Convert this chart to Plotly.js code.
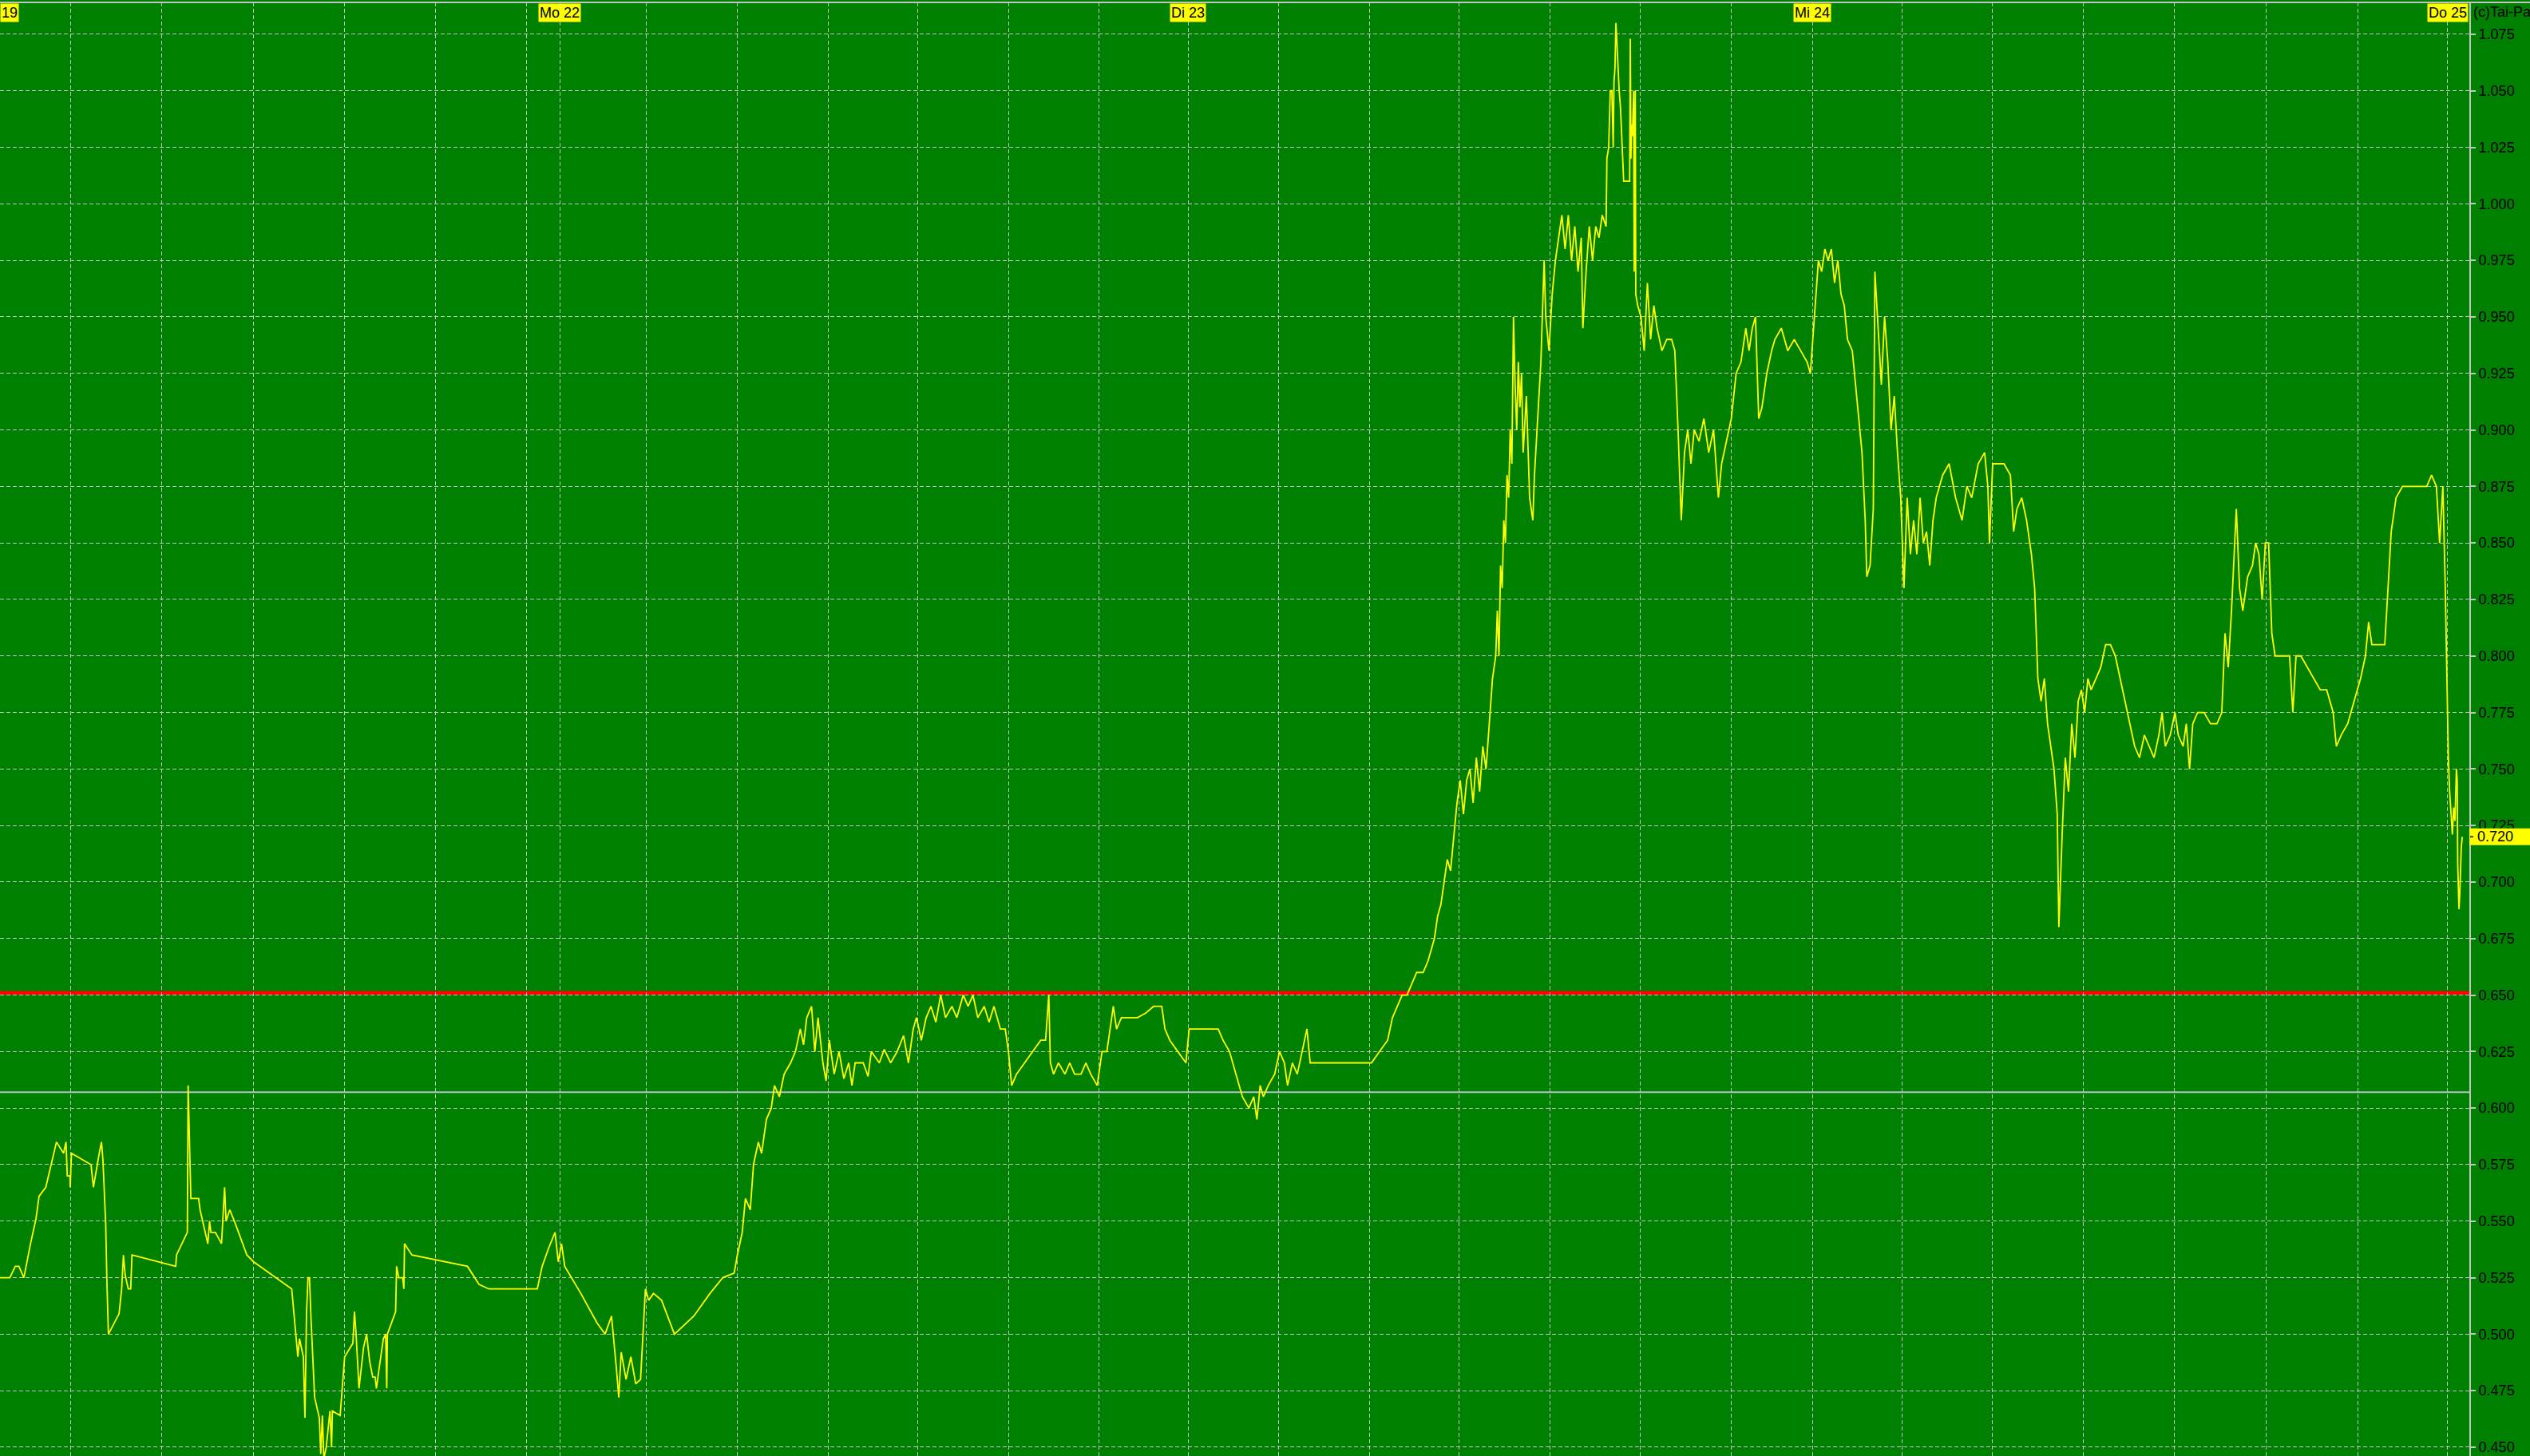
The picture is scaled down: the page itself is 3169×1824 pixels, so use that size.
<!DOCTYPE html>
<html><head><meta charset="utf-8">
<script src="https://cdn.plot.ly/plotly-3.0.1.min.js"></script>
<style>html,body{margin:0;padding:0;background:#008000;overflow:hidden}</style>
</head><body><div id="chart" style="width:3169px;height:1824px"></div>
<script>
// time axis: trading-time index (sessions concatenated)
const dayLabels = ['19', 'Mo 22', 'Di 23', 'Mi 24', 'Do 25'];
const dayStartT = [0, 346.9, 736.3, 1123.2, 1517.0];
const gridT = [44.0, 100.4, 156.9, 213.3, 269.7, 326.1,
  400.3, 456.7, 513.1, 569.0, 625.4, 681.3,
  792.2, 848.6, 904.0, 960.4, 1016.8, 1073.2,
  1178.6, 1235.0, 1291.4, 1347.8, 1404.7, 1461.2];
const timeRange = [0, 1530.4];
const priceRange = [0.4461, 1.0891];
const priceTick0 = 0.45, priceTickStep = 0.025;
const markLevel = 0.651;   // red line
const prevClose = 0.607;   // grey line
const copyrightText = '(c)Tai-Pan';

// price series [time index, price]
const fr19 = [[0,0.525],[6.1,0.525],[9.5,0.530],[11.7,0.530],[14.8,0.525],[18.9,0.540],[22.3,0.551],[24.2,0.561],[28.4,0.565],[30.3,0.571],[33.1,0.580],[35.0,0.585],[39.4,0.580],[40.9,0.585],[41.7,0.570],[43.4,0.570],[43.5,0.565],[44.3,0.580],[56.4,0.575],[57.9,0.565],[61.5,0.580],[62.9,0.585],[63.8,0.577],[64.8,0.562],[65.5,0.549],[66.3,0.522],[67.2,0.500],[73.8,0.509],[75.4,0.520],[76.5,0.535],[77.6,0.526],[79.5,0.520],[81.0,0.520],[81.8,0.535],[108.9,0.530],[109.4,0.535],[116.1,0.545],[116.6,0.610],[117.2,0.595],[118.0,0.570],[118.3,0.560],[123.1,0.560],[124.0,0.555],[128.8,0.540],[129.9,0.550],[130.7,0.545],[133.5,0.545],[137.3,0.540],[138.2,0.550],[139.2,0.565],[140.1,0.550],[142.4,0.555],[145.8,0.549],[153.0,0.535],[157.2,0.532],[180.8,0.520],[182.7,0.505],[184.6,0.490],[185.6,0.498],[188.0,0.490],[189.0,0.463],[190.0,0.510],[190.9,0.525],[191.8,0.525],[192.8,0.506],[194.1,0.482],[195.0,0.472],[197.9,0.463],[198.8,0.447],[199.8,0.464],[200.7,0.445],[202.2,0.450],[203.6,0.459],[204.5,0.466],[205.5,0.450],[206.0,0.466],[210.8,0.464],[212.1,0.477],[213.6,0.490],[218.7,0.496],[219.7,0.510],[220.6,0.501],[221.6,0.490],[222.5,0.476],[225.3,0.494],[227.2,0.500],[229.1,0.488],[231.0,0.481],[232.5,0.481],[233.3,0.476],[234.8,0.484],[237.6,0.498],[239.0,0.500],[239.7,0.476],[240.1,0.500],[245.2,0.510],[245.8,0.530],[247.1,0.525],[249.6,0.525],[250.3,0.520],[250.7,0.540],[255.3,0.535],[289.7,0.530],[296.9,0.522],[303,0.520],[333,0.520],[336,0.530],[340,0.538],[344,0.545],[346,0.532]];
const mo22 = [[348,0.540],[350,0.530],[360,0.518],[370,0.505],[375,0.500],[379,0.508],[382,0.485],[383.5,0.472],[385,0.492],[388,0.480],[391,0.490],[394,0.478],[397,0.480],[400,0.520],[402,0.515],[405,0.518],[410,0.515],[418,0.500],[430,0.508],[440,0.518],[448,0.525],[455,0.527],[457,0.535],[460,0.545],[462,0.560],[465,0.555],[467,0.575],[470,0.585],[472,0.580],[475,0.595],[478,0.600],[480,0.610],[483,0.605],[486,0.615],[490,0.620],[493,0.625],[496,0.635],[498,0.628],[500,0.640],[503,0.645],[505,0.625],[507,0.640],[510,0.620],[512,0.612],[514,0.630],[517,0.615],[520,0.625],[523,0.613],[526,0.620],[528,0.610],[530,0.620],[535,0.620],[538,0.614],[540,0.625],[545,0.620],[548,0.626],[552,0.620],[556,0.625],[560,0.632],[563,0.620],[566,0.635],[568,0.640],[571,0.630],[574,0.640],[577,0.645],[580,0.638],[583,0.650],[586,0.640],[590,0.645],[593,0.640],[597,0.650],[600,0.645],[603,0.650],[606,0.640],[610,0.645],[613,0.638],[616,0.645],[620,0.635],[623,0.635],[625,0.625],[627,0.610],[630,0.615],[635,0.620],[640,0.625],[645,0.630],[648,0.630],[650,0.650],[651,0.620],[653,0.615],[656,0.620],[660,0.615],[663,0.620],[666,0.615],[670,0.615],[673,0.620],[676,0.615],[680,0.610],[683,0.625],[686,0.625],[690,0.645],[692,0.635],[695,0.640],[700,0.640],[705,0.640],[710,0.642],[715,0.645],[720,0.645],[722,0.635],[725,0.630],[730,0.625],[735,0.620]];
const di23 = [[737,0.635],[745,0.635],[750,0.635],[755,0.635],[758,0.630],[762,0.625],[766,0.615],[770,0.605],[774,0.600],[777,0.605],[779,0.595],[781,0.610],[783,0.605],[786,0.610],[790,0.615],[793,0.625],[796,0.620],[798,0.610],[801,0.620],[804,0.615],[807,0.625],[810,0.635],[812,0.620],[815,0.620],[820,0.620],[830,0.620],[840,0.620],[850,0.620],[855,0.625],[860,0.630],[863,0.640],[866,0.645],[869,0.650],[872,0.650],[875,0.655],[878,0.660],[882,0.660],[885,0.665],[887,0.670],[889,0.675],[891,0.685],[893,0.690],[895,0.700],[897,0.710],[899,0.705],[901,0.720],[903,0.735],[905,0.745],[907,0.730],[909,0.745],[911,0.750],[913,0.735],[915,0.755],[917,0.740],[919,0.760],[921,0.750],[923,0.770],[925,0.790],[927,0.800],[928,0.820],[929,0.800],[930,0.840],[931,0.830],[932,0.860],[933,0.850],[934,0.880],[935,0.870],[936,0.900],[937,0.885],[938,0.950],[939,0.920],[940,0.900],[941,0.930],[942,0.910],[943,0.925],[944,0.890],[946,0.915],[948,0.870],[950,0.860],[951,0.880],[953,0.905],[955,0.930],[957,0.975],[958,0.950],[960,0.935],[962,0.960],[964,0.975],[966,0.985],[968,0.995],[970,0.980],[972,0.995],[974,0.975],[976,0.990],[978,0.970],[980,0.985],[981,0.945],[983,0.970],[985,0.990],[987,0.975],[989,0.990],[991,0.985],[993,0.995],[995.4,0.990],[995.9,1.020],[997,1.025],[998,1.050],[999,1.050],[999.8,1.025],[1000.3,1.054],[1000.9,1.060],[1001.5,1.080],[1002,1.073],[1002.7,1.060],[1003.2,1.057],[1003.5,1.050],[1004.3,1.043],[1005,1.032],[1006,1.017],[1006.3,1.010],[1010,1.010],[1010.4,1.073],[1010.8,1.020],[1011.2,1.035],[1011.7,1.030],[1012,1.040],[1012.5,1.050],[1012.8,0.970],[1013.5,1.050],[1013.8,0.960],[1015,0.955],[1017,0.950],[1019,0.935],[1021,0.965],[1023,0.940],[1025,0.955],[1027,0.945],[1030,0.935],[1033,0.940],[1036,0.940],[1038,0.935],[1040,0.900],[1042,0.860],[1044,0.890],[1046,0.900],[1048,0.885],[1050,0.900],[1053,0.895],[1056,0.905],[1059,0.890],[1062,0.900],[1065,0.870],[1067,0.885],[1070,0.895],[1073,0.905],[1076,0.925],[1079,0.930],[1082,0.945],[1084,0.935],[1086,0.945],[1088,0.950],[1090,0.905],[1092,0.910],[1095,0.925],[1098,0.935],[1100,0.940],[1104,0.945],[1108,0.935],[1112,0.940],[1116,0.935],[1120,0.930],[1122,0.925]];
const mi24 = [[1125,0.955],[1127,0.975],[1129,0.970],[1131,0.980],[1133,0.975],[1135,0.980],[1137,0.965],[1139,0.975],[1141,0.960],[1143,0.955],[1145,0.940],[1148,0.935],[1150,0.920],[1152,0.905],[1154,0.890],[1156,0.860],[1157,0.835],[1159,0.840],[1161,0.865],[1162,0.970],[1164,0.945],[1166,0.920],[1168,0.950],[1170,0.930],[1172,0.900],[1174,0.915],[1176,0.890],[1178,0.870],[1180,0.830],[1182,0.870],[1184,0.845],[1186,0.860],[1188,0.845],[1190,0.870],[1192,0.850],[1194,0.855],[1196,0.840],[1198,0.860],[1200,0.870],[1204,0.880],[1208,0.885],[1212,0.870],[1216,0.860],[1219,0.875],[1222,0.870],[1226,0.885],[1230,0.890],[1232,0.875],[1233,0.850],[1235,0.885],[1238,0.885],[1242,0.885],[1246,0.880],[1248,0.855],[1250,0.865],[1253,0.870],[1256,0.860],[1259,0.845],[1261,0.830],[1263,0.790],[1265,0.780],[1267,0.790],[1269,0.770],[1271,0.760],[1273,0.750],[1275,0.730],[1276,0.680],[1278,0.720],[1280,0.755],[1282,0.740],[1284,0.770],[1286,0.755],[1288,0.780],[1290,0.785],[1292,0.775],[1294,0.790],[1296,0.785],[1299,0.790],[1302,0.795],[1305,0.805],[1308,0.805],[1311,0.800],[1314,0.790],[1317,0.780],[1320,0.770],[1323,0.760],[1326,0.755],[1329,0.765],[1332,0.760],[1335,0.755],[1338,0.765],[1340,0.775],[1342,0.760],[1345,0.765],[1348,0.775],[1350,0.765],[1353,0.760],[1355,0.770],[1357,0.750],[1359,0.770],[1362,0.775],[1366,0.775],[1370,0.770],[1374,0.770],[1377,0.775],[1379,0.810],[1381,0.795],[1383,0.820],[1386,0.865],[1388,0.830],[1390,0.820],[1393,0.835],[1396,0.840],[1398,0.850],[1400,0.845],[1402,0.825],[1404,0.850],[1406,0.850],[1408,0.810],[1410,0.800],[1413,0.800],[1416,0.800],[1419,0.800],[1421,0.775],[1423,0.800],[1426,0.800],[1430,0.795],[1434,0.790],[1438,0.785],[1442,0.785],[1446,0.775],[1448,0.760],[1451,0.765],[1455,0.770],[1459,0.780],[1463,0.790],[1466,0.800],[1468,0.815],[1470,0.805],[1474,0.805],[1478,0.805],[1480,0.830],[1482,0.855],[1485,0.870],[1489,0.875],[1494,0.875],[1499,0.875],[1504,0.875],[1507,0.880],[1510,0.875],[1512,0.850],[1514,0.875],[1515.5,0.830]];
const do25 = [[1517.4,0.755],[1518.2,0.740],[1519.4,0.725],[1519.9,0.721],[1520.7,0.733],[1521.5,0.727],[1522.4,0.750],[1522.9,0.745],[1523.2,0.708],[1524.0,0.688],[1524.5,0.695],[1524.9,0.706],[1525.4,0.715],[1526.0,0.720]];

const series = fr19.concat(mo22, di23, mi24, do25);
const tVals = series.map(p => p[0]);
const pVals = series.map(p => p[1]);
const lastPrice = pVals[pVals.length - 1];

const GREEN = '#008000', GRID = '#c4c4c4', FONT = 'Liberation Sans, Arial, sans-serif';

const trace = {
  x: tVals, y: pVals, type: 'scatter', mode: 'lines',
  line: {color: '#ffff00', width: 1.8}, hoverinfo: 'skip', cliponaxis: true
};

const annotations = dayLabels.map((lab, i) => ({
  x: dayStartT[i], xref: 'x', y: 1, yref: 'paper',
  xanchor: i === 0 ? 'left' : 'center', yanchor: 'top', yshift: -1,
  text: lab, showarrow: false, bgcolor: '#ffff00', borderpad: 1,
  font: {family: FONT, size: 18, color: '#000'}
}));
annotations.push({
  x: 1, xref: 'paper', y: 1, yref: 'paper', xanchor: 'left', yanchor: 'top',
  xshift: 3, yshift: 0, text: copyrightText, showarrow: false,
  font: {family: FONT, size: 18, color: '#000'}
});
annotations.push({
  x: 1, xref: 'paper', y: lastPrice, yref: 'y', xanchor: 'left', yanchor: 'middle',
  xshift: 8, text: lastPrice.toFixed(3), showarrow: false,
  font: {family: FONT, size: 18, color: '#000'}
});

const shapes = [
  {type: 'line', xref: 'paper', yref: 'y', x0: 0, x1: 1, y0: prevClose, y1: prevClose,
   line: {color: '#b4c0cc', width: 2}, layer: 'between'},
  {type: 'line', xref: 'paper', yref: 'y', x0: 0, x1: 1, y0: markLevel, y1: markLevel,
   line: {color: '#ff0000', width: 4.5}, layer: 'between'},
  {type: 'line', xref: 'paper', yref: 'paper', x0: 0, x1: 1.03, y0: 1, y1: 1,
   line: {color: GRID, width: 2}, layer: 'above'},
  {type: 'rect', xref: 'paper', yref: 'y', x0: 1, x1: 1.03,
   y0: lastPrice - 0.0037, y1: lastPrice + 0.0037,
   fillcolor: '#ffff00', line: {width: 0}, layer: 'above'},
  {type: 'line', xref: 'paper', yref: 'y', x0: 1.0003, x1: 1.0016, y0: lastPrice, y1: lastPrice,
   line: {color: '#000', width: 1.5}, layer: 'above'}
];

const layout = {
  width: 3169, height: 1824,
  margin: {l: 0, r: 76, t: 3, b: 0, pad: 0},
  paper_bgcolor: GREEN, plot_bgcolor: GREEN,
  showlegend: false,
  xaxis: {
    range: timeRange, tickmode: 'array', tickvals: gridT.concat(dayStartT.slice(1)),
    showticklabels: false, ticks: '', showgrid: true, gridcolor: GRID, gridwidth: 1,
    griddash: '5px,3px', zeroline: false, showline: false, fixedrange: true
  },
  yaxis: {
    side: 'right', range: priceRange, tick0: priceTick0, dtick: priceTickStep,
    tickformat: '.3f', showgrid: true, gridcolor: GRID, gridwidth: 1, griddash: '5px,3px',
    ticks: 'outside', ticklen: 6, tickwidth: 2, tickcolor: GRID,
    showline: true, linecolor: GRID, linewidth: 2, zeroline: false,
    tickfont: {family: FONT, size: 18, color: '#000'}, fixedrange: true
  },
  annotations: annotations,
  shapes: shapes
};

Plotly.newPlot('chart', [trace], layout, {displayModeBar: false, staticPlot: true});
</script></body></html>
